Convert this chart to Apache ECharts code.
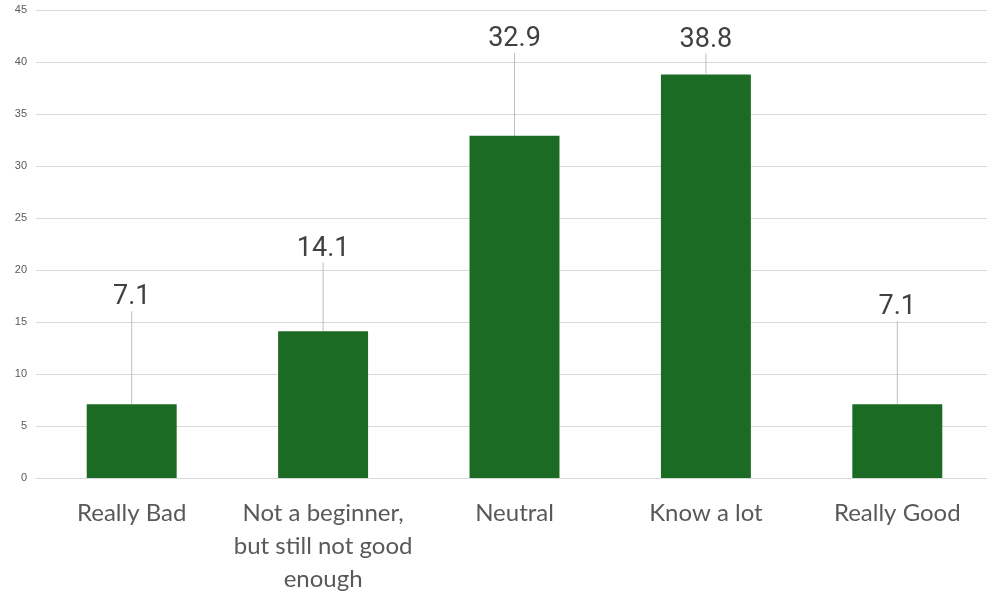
<!DOCTYPE html>
<html>
<head>
<meta charset="utf-8">
<script src="https://cdn.jsdelivr.net/npm/echarts@6/dist/echarts.min.js"></script>
<style>html,body{margin:0;padding:0;background:#fff;overflow:hidden}#c{width:987px;height:592px}</style>
</head>
<body>
<div id="c"></div>
<script>
var categories = ['Really Bad', 'Not a beginner,\nbut still not good\nenough', 'Neutral', 'Know a lot', 'Really Good'];
var values = [7.1, 14.1, 32.9, 38.8, 7.1];
var yTicks = { min: 0, max: 45, interval: 5 };
// vertical label displacement (px) for callout labels
var labelShift = [-88, -64, -78, -16, -78];

var chart = echarts.init(document.getElementById('c'), null, { renderer: 'canvas' });
chart.setOption({
  animation: false,
  backgroundColor: '#ffffff',
  grid: { left: 36, right: -6, top: 10, bottom: 114, containLabel: false, outerBoundsMode: 'none' },
  xAxis: {
    type: 'category',
    data: categories,
    axisLine: { show: true, lineStyle: { color: '#d9d9d9', width: 1 } },
    axisTick: { show: false },
    axisLabel: {
      interval: 0,
      margin: 19,
      fontFamily: 'Lato, "Open Sans", sans-serif',
      fontSize: 24,
      lineHeight: 33,
      color: '#595959'
    }
  },
  yAxis: {
    type: 'value',
    min: yTicks.min, max: yTicks.max, interval: yTicks.interval,
    axisLine: { show: false },
    axisTick: { show: false },
    splitLine: { lineStyle: { color: '#d9d9d9', width: 1 } },
    axisLabel: { margin: 9, fontFamily: 'Arial, "Liberation Sans", sans-serif', fontSize: 11, color: '#595959' }
  },
  series: [{
    type: 'bar',
    data: values,
    barWidth: '47%',
    itemStyle: { color: '#1b6b25' },
    label: {
      show: true,
      position: 'top',
      distance: 5,
      fontFamily: 'Roboto, Arial, sans-serif',
      fontSize: 27,
      color: '#404040'
    },
    labelLine: { show: true, lineStyle: { color: '#bfbfbf', width: 1 } },
    labelLayout: function (p) { return { dy: labelShift[p.dataIndex] }; }
  }]
});
</script>
</body>
</html>
